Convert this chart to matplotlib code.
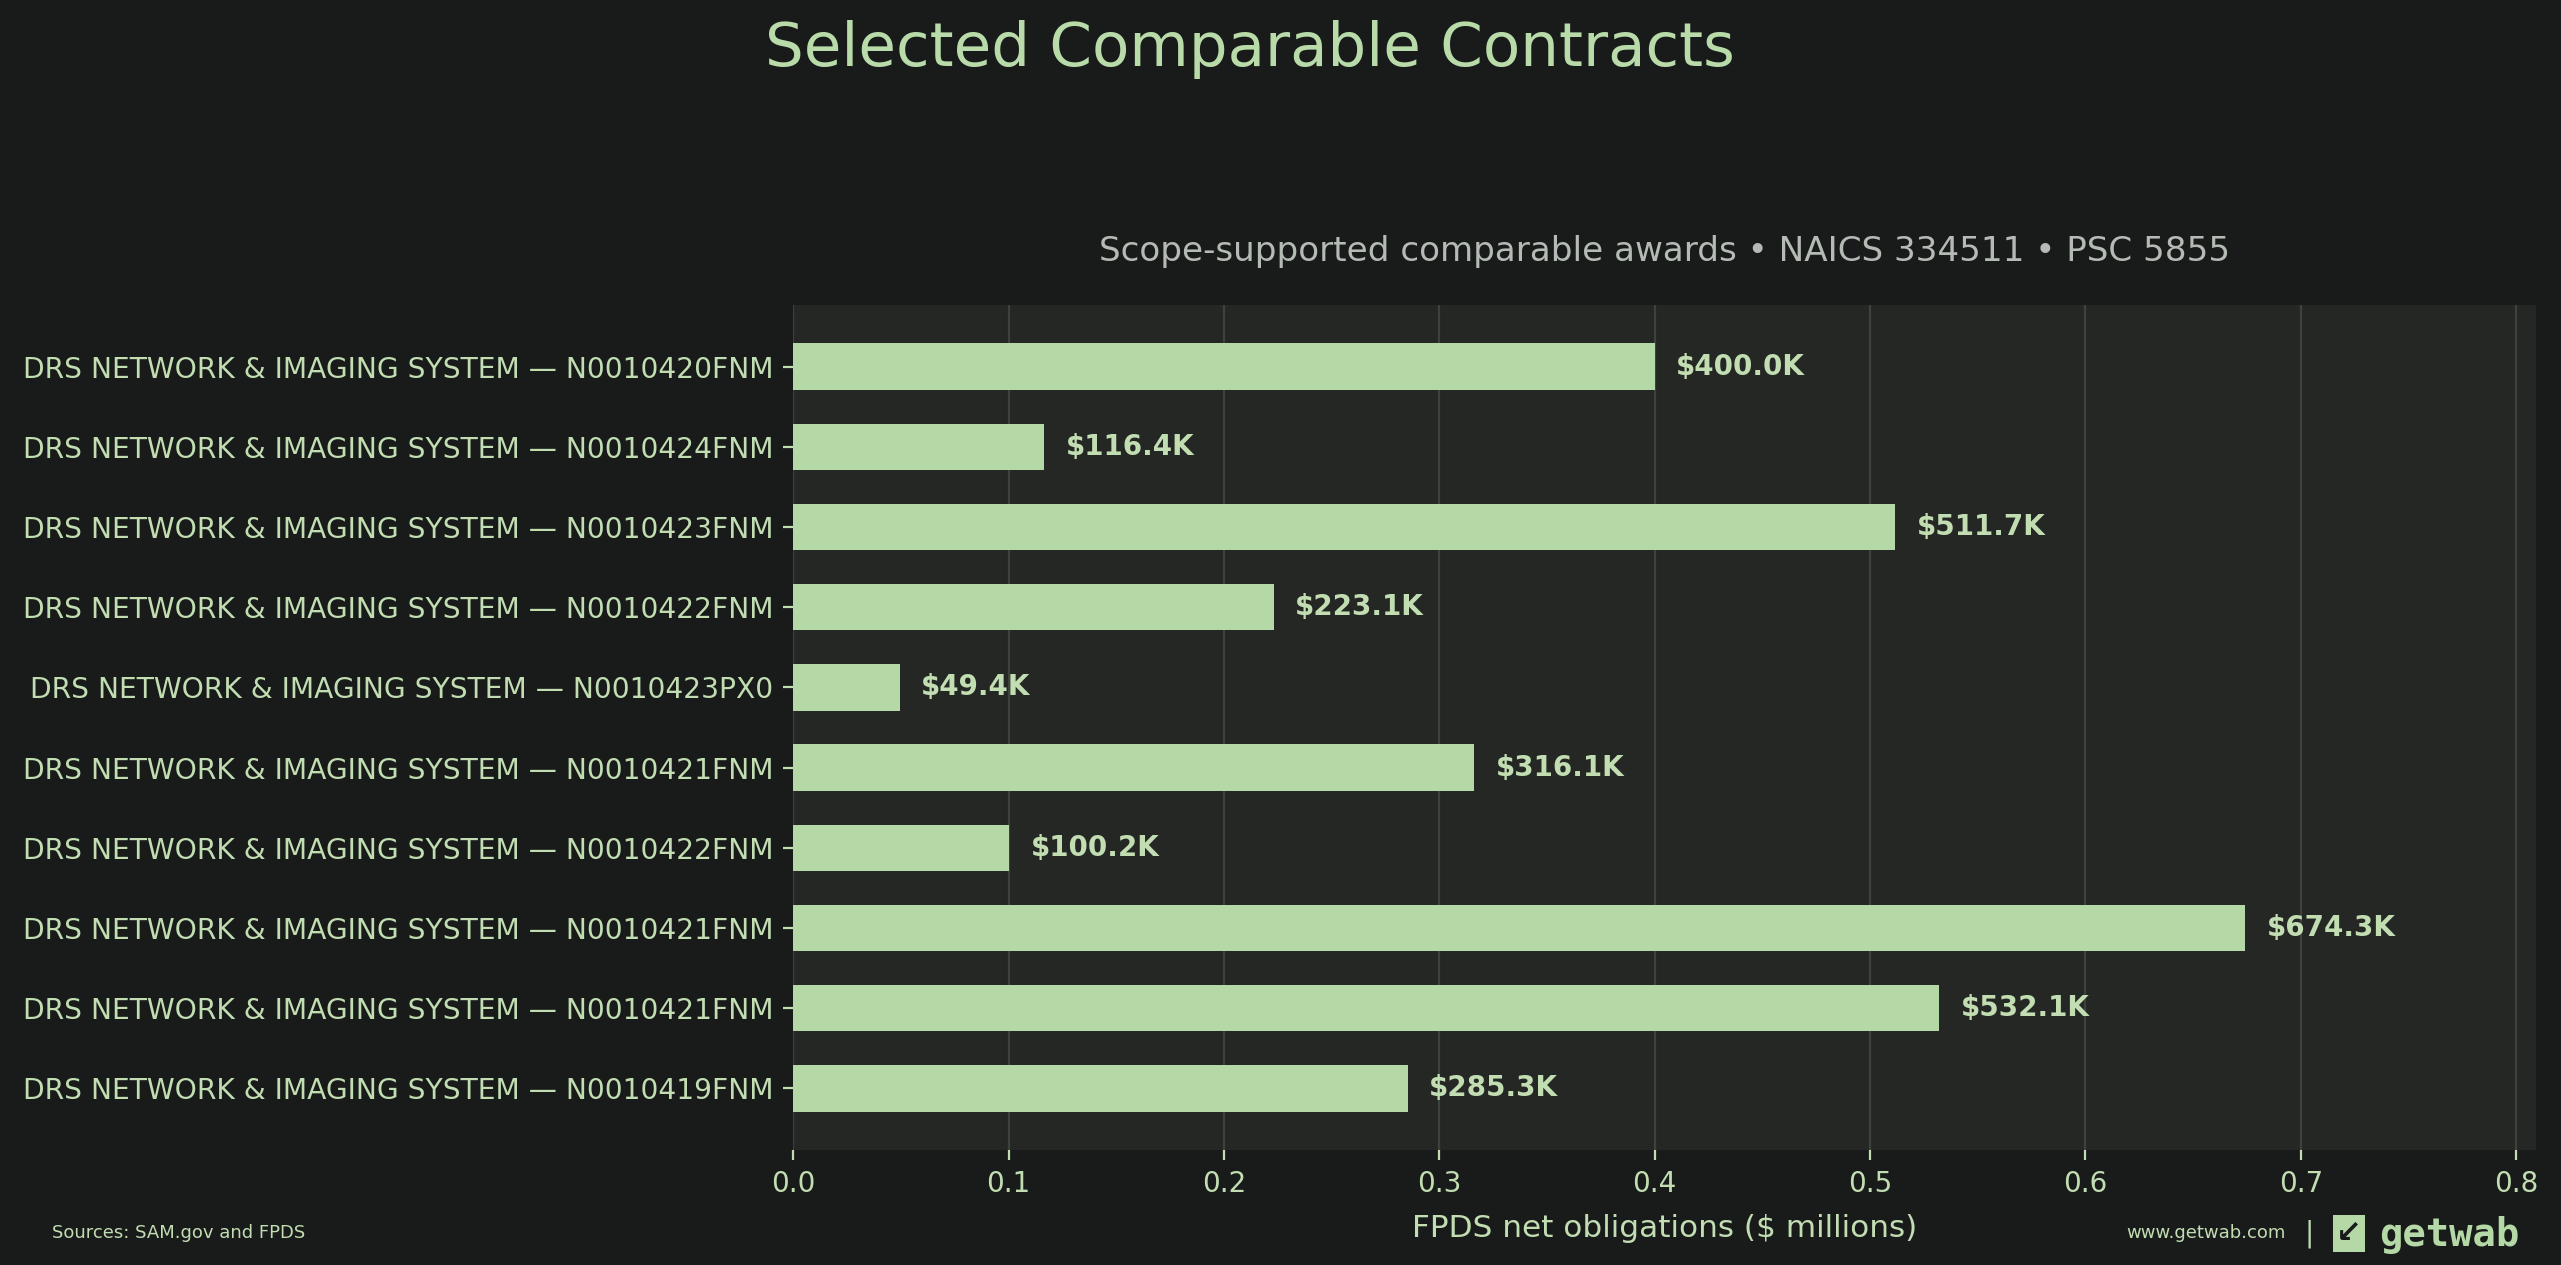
import matplotlib
matplotlib.use("Agg")
import matplotlib.pyplot as plt
import numpy as np

# data (top to bottom)
labels = [
    "DRS NETWORK & IMAGING SYSTEM — N0010420FNM",
    "DRS NETWORK & IMAGING SYSTEM — N0010424FNM",
    "DRS NETWORK & IMAGING SYSTEM — N0010423FNM",
    "DRS NETWORK & IMAGING SYSTEM — N0010422FNM",
    "DRS NETWORK & IMAGING SYSTEM — N0010423PX0",
    "DRS NETWORK & IMAGING SYSTEM — N0010421FNM",
    "DRS NETWORK & IMAGING SYSTEM — N0010422FNM",
    "DRS NETWORK & IMAGING SYSTEM — N0010421FNM",
    "DRS NETWORK & IMAGING SYSTEM — N0010421FNM",
    "DRS NETWORK & IMAGING SYSTEM — N0010419FNM",
]
values_k = [400.0, 116.4, 511.7, 223.1, 49.4, 316.1, 100.2, 674.3, 532.1, 285.3]

# colours
BG = "#181b1a"
PANEL = "#252725"
BAR = "#b5d8a7"
TITLE = "#b9dba9"
TXT = "#c2ddb2"
SUB = "#b4bab4"
GRID = "#3d423d"

plt.rcParams['font.family'] = ['DejaVu Sans']

vals = np.array(values_k) / 1000.0
ypos = np.arange(len(labels))

fig = plt.figure(figsize=(12.805, 6.325), dpi=200, facecolor=BG)
ax = fig.add_axes([0.3097, 0.0909, 0.6805, 0.668])
ax.set_facecolor(PANEL)

ax.barh(ypos, vals, height=0.58, color=BAR, zorder=3)
ax.invert_yaxis()
ax.set_xlim(0, vals.max() * 1.2)

for y, v, k in zip(ypos, vals, values_k):
    ax.text(v + 0.01, y, f"${k:.1f}K", va="center", ha="left",
            color=TXT, fontsize=10, fontweight="bold", zorder=4)

ax.set_yticks(ypos)
ax.set_yticklabels(labels)
ax.set_xticks(np.arange(0, 0.81, 0.1))
ax.xaxis.set_major_formatter(matplotlib.ticker.FormatStrFormatter("%.1f"))
ax.tick_params(axis="both", colors=TXT, labelsize=10, length=3.6, width=0.8)
ax.tick_params(axis="y", labelsize=10.15)
ax.grid(axis="x", color=GRID, linewidth=0.8, zorder=0)
ax.grid(axis="y", visible=False)
for s in ax.spines.values():
    s.set_visible(False)

ax.set_xlabel("FPDS net obligations ($ millions)", color=TXT, fontsize=11.2, labelpad=6)
ax.set_title("Scope-supported comparable awards • NAICS 334511 • PSC 5855",
             color=SUB, fontsize=12.3, pad=16)

fig.text(0.488, 0.961, "Selected Comparable Contracts", ha="center", va="center",
         color=TITLE, fontsize=22)

# footer
fig.text(0.0203, 0.025, "Sources: SAM.gov and FPDS", ha="left", va="center",
         color=TXT, fontsize=6.5)
fig.text(0.8925, 0.025, "www.getwab.com", ha="right", va="center",
         color=TXT, fontsize=6.5)
fig.text(0.9015, 0.025, "|", ha="center", va="center", color=TXT, fontsize=10)
fig.text(0.9172, 0.025, "↙", ha="center", va="center", color=BG, fontsize=11,
         fontweight="bold",
         bbox=dict(boxstyle="square,pad=0.12", fc=BAR, ec="none"))
fig.text(0.929, 0.024, "getwab", ha="left", va="center", color=BAR,
         fontsize=14, fontweight="bold", family="DejaVu Sans Mono")

fig.savefig("out.png", dpi=200, facecolor=BG)
